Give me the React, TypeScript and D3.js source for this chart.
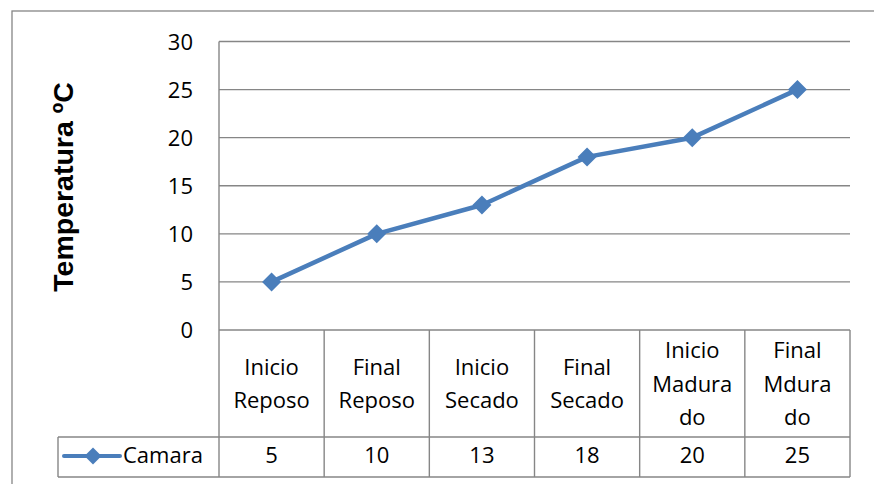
import React from "react";
import * as d3 from "d3";

const categories: string[][] = [
  ["Inicio", "Reposo"],
  ["Final", "Reposo"],
  ["Inicio", "Secado"],
  ["Final", "Secado"],
  ["Inicio", "Madura", "do"],
  ["Final", "Mdura", "do"],
];
const seriesName = "Camara";
const values: number[] = [5, 10, 13, 18, 20, 25];
const yTicks: number[] = [0, 5, 10, 15, 20, 25, 30];
const yTitle = "Temperatura ºC";

const W = 874;
const H = 484;
const plotLeft = 219;
const plotRight = 850;
const plotTop = 41.5;
const plotBottom = 330;
const rowDivider = 437;
const tableBottom = 477;
const legendLeft = 58;

const gridColor = "#868686";
const lineColor = "#4A7EBB";
const font = "'Open Sans', sans-serif";

export default function App() {
  const x = d3
    .scaleBand<number>()
    .domain(d3.range(categories.length))
    .range([plotLeft, plotRight]);
  const y = d3.scaleLinear().domain([0, 30]).range([plotBottom, plotTop]);

  const line = d3
    .line<number>()
    .x((_, i) => (x(i) as number) + x.bandwidth() / 2)
    .y((d) => y(d));

  const diamond = (cx: number, cy: number, r: number) =>
    `M${cx},${cy - r}L${cx + r},${cy}L${cx},${cy + r}L${cx - r},${cy}Z`;

  const headerMid = (plotBottom + rowDivider) / 2;
  const lineH = 33.5;

  return (
    <svg
      width={W}
      height={H}
      style={{ position: "absolute", left: 0, top: 0, background: "#fff" }}
    >
      <rect x={0} y={0} width={W} height={H} fill="#fff" />
      {/* outer frame */}
      <rect
        x={12}
        y={11}
        width={W + 20}
        height={H + 20}
        fill="none"
        stroke={gridColor}
        strokeWidth={1.3}
      />
      {/* gridlines */}
      {yTicks.map((t) => (
        <line
          key={t}
          x1={plotLeft}
          x2={plotRight}
          y1={y(t)}
          y2={y(t)}
          stroke={gridColor}
          strokeWidth={1.4}
        />
      ))}
      {/* tick labels */}
      {yTicks.map((t) => (
        <text
          key={"l" + t}
          x={193}
          y={y(t) + 8}
          textAnchor="end"
          fontFamily={font}
          fontSize={22}
          fill="#000"
        >
          {t}
        </text>
      ))}
      {/* y axis */}
      <line
        x1={plotLeft}
        x2={plotLeft}
        y1={plotTop}
        y2={tableBottom}
        stroke={gridColor}
        strokeWidth={1.4}
      />
      {/* table vertical lines */}
      {d3.range(1, categories.length + 1).map((i) => {
        const xx = i < categories.length ? (x(i) as number) : plotRight;
        return (
          <line
            key={"v" + i}
            x1={xx}
            x2={xx}
            y1={plotBottom}
            y2={tableBottom}
            stroke={gridColor}
            strokeWidth={1.4}
          />
        );
      })}
      {/* table horizontal lines */}
      <line
        x1={legendLeft}
        x2={plotRight}
        y1={rowDivider}
        y2={rowDivider}
        stroke={gridColor}
        strokeWidth={1.4}
      />
      <line
        x1={legendLeft}
        x2={plotRight}
        y1={tableBottom}
        y2={tableBottom}
        stroke={gridColor}
        strokeWidth={1.4}
      />
      <line
        x1={legendLeft}
        x2={legendLeft}
        y1={rowDivider}
        y2={tableBottom}
        stroke={gridColor}
        strokeWidth={1.4}
      />
      {/* category labels */}
      {categories.map((lines, i) => {
        const cx = (x(i) as number) + x.bandwidth() / 2;
        const firstBaseline =
          headerMid + 8 - ((lines.length - 1) * lineH) / 2;
        return (
          <text
            key={"c" + i}
            textAnchor="middle"
            fontFamily={font}
            fontSize={22}
            fill="#000"
          >
            {lines.map((s, j) => (
              <tspan key={j} x={cx} y={firstBaseline + j * lineH}>
                {s}
              </tspan>
            ))}
          </text>
        );
      })}
      {/* values row */}
      {values.map((v, i) => (
        <text
          key={"d" + i}
          x={(x(i) as number) + x.bandwidth() / 2}
          y={463}
          textAnchor="middle"
          fontFamily={font}
          fontSize={22}
          fill="#000"
        >
          {v}
        </text>
      ))}
      {/* legend key */}
      <line
        x1={64}
        x2={120}
        y1={456}
        y2={456}
        stroke={lineColor}
        strokeWidth={4}
        strokeLinecap="round"
      />
      <path d={diamond(93, 456, 8.5)} fill={lineColor} />
      <text x={123} y={463} fontFamily={font} fontSize={22} fill="#000">
        {seriesName}
      </text>
      {/* series line */}
      <path
        d={line(values) || ""}
        fill="none"
        stroke={lineColor}
        strokeWidth={4.5}
        strokeLinejoin="round"
      />
      {values.map((v, i) => (
        <path
          key={"m" + i}
          d={diamond((x(i) as number) + x.bandwidth() / 2, y(v), 9.5)}
          fill={lineColor}
        />
      ))}
      {/* y title */}
      <text
        transform={`translate(73,187) rotate(-90)`}
        textAnchor="middle"
        fontFamily="'Liberation Sans', Arial, sans-serif"
        fontWeight="bold"
        fontSize={28.5}
        fill="#000"
      >
        {yTitle}
      </text>
    </svg>
  );
}
